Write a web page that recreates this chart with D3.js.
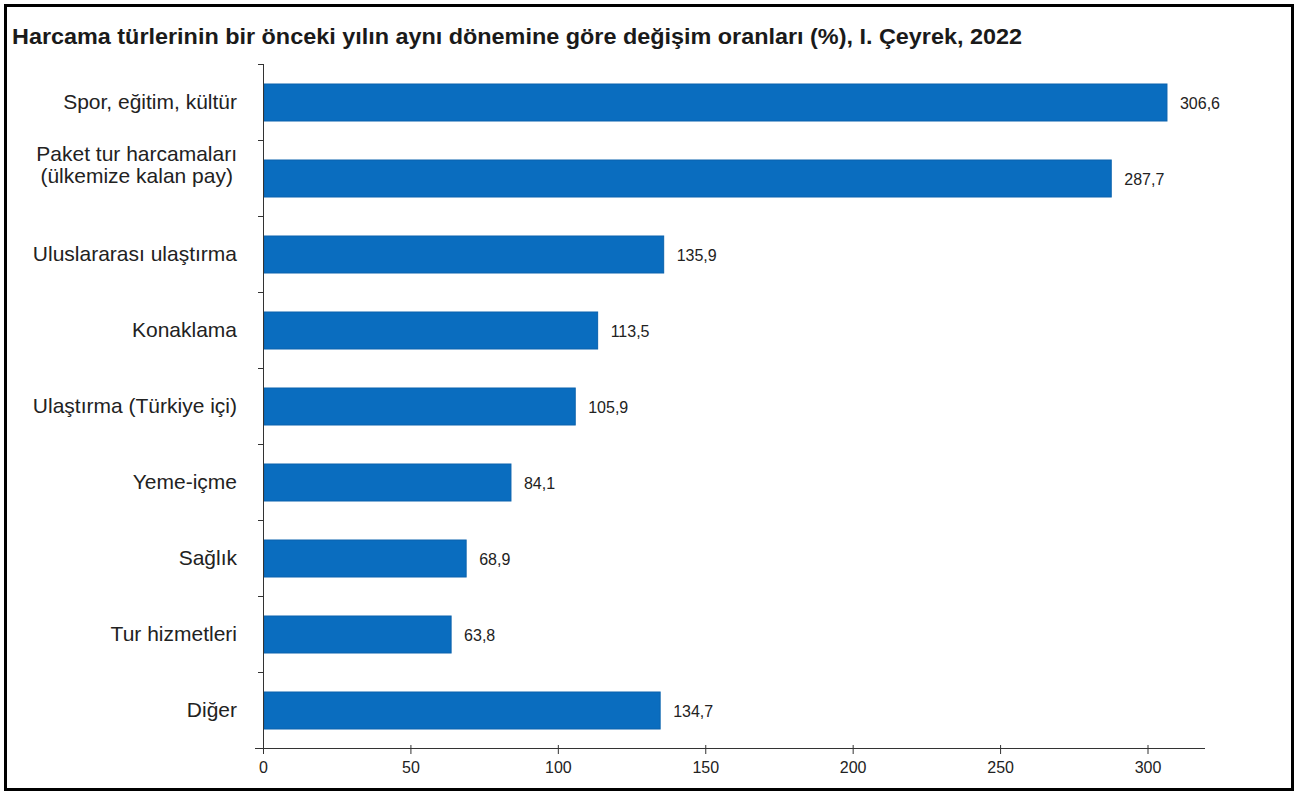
<!DOCTYPE html>
<html>
<head>
<meta charset="utf-8">
<script src="https://cdn.jsdelivr.net/npm/d3@7"></script>
<style>
  body { margin: 0; background: #fff; }
  svg text { font-family: "Liberation Sans", Arial, sans-serif; }
</style>
</head>
<body>
<div id="chart"></div>
<script>
// chart data
var categories = [
    ["Spor, eğitim, kültür"],
    ["Paket tur harcamaları", "(ülkemize kalan pay)"],
    ["Uluslararası ulaştırma"],
    ["Konaklama"],
    ["Ulaştırma (Türkiye içi)"],
    ["Yeme-içme"],
    ["Sağlık"],
    ["Tur hizmetleri"],
    ["Diğer"]
];
var values = [306.6, 287.7, 135.9, 113.5, 105.9, 84.1, 68.9, 63.8, 134.7];
var xTicks = [0, 50, 100, 150, 200, 250, 300];
var title = "Harcama türlerinin bir önceki yılın aynı dönemine göre değişim oranları (%), I. Çeyrek, 2022";

(function () {
    var W = 1305, H = 796;
    var margin = { top: 64, left: 263, right: 100, bottom: 48 };
    var plotW = 1205 - margin.left,
        plotH = 748 - margin.top;

    var svg = d3.select("#chart").append("svg")
        .attr("width", W)
        .attr("height", H);

    // outer frame
    svg.append("rect")
        .attr("x", 5.5).attr("y", 5.5)
        .attr("width", 1287).attr("height", 784)
        .attr("fill", "none")
        .attr("stroke", "#000")
        .attr("stroke-width", 3);

    svg.append("text")
        .attr("x", 12).attr("y", 44)
        .attr("font-size", "22px")
        .attr("font-weight", "bold")
        .attr("fill", "#1a1a1a")
        .attr("textLength", 1010)
        .attr("lengthAdjust", "spacingAndGlyphs")
        .text(title);

    var g = svg.append("g")
        .attr("transform", "translate(" + margin.left + "," + margin.top + ")");

    var x = d3.scaleLinear()
        .domain([0, 319.5])
        .range([0, plotW]);

    var y = d3.scaleBand()
        .domain(d3.range(categories.length))
        .range([0, plotH])
        .paddingInner(0.5)
        .paddingOuter(0.25);

    // bars
    g.selectAll(".bar")
        .data(values)
        .enter().append("rect")
        .attr("class", "bar")
        .attr("x", x(0) + 1)
        .attr("y", function (d, i) { return y(i) + 1; })
        .attr("width", function (d) { return x(d) - x(0) - 1; })
        .attr("height", y.bandwidth() - 1)
        .attr("fill", "#0a6dbf")
        .attr("stroke", "#0a62ad")
        .attr("stroke-width", 1);

    // value labels
    g.selectAll(".val")
        .data(values)
        .enter().append("text")
        .attr("class", "val")
        .attr("x", function (d) { return x(d) + 13; })
        .attr("y", function (d, i) { return y(i) + y.bandwidth() / 2 + 1; })
        .attr("dy", "0.35em")
        .attr("font-size", "16px")
        .attr("fill", "#222")
        .text(function (d) { return d3.format(".1f")(d).replace(".", ","); });

    // category labels: right-aligned block, lines centred inside it
    var labelRight = -26;
    var step = y.step();
    g.selectAll(".cat")
        .data(categories)
        .enter().append("g")
        .attr("class", "cat")
        .attr("transform", function (d, i) {
            return "translate(" + labelRight + "," + (y(i) + y.bandwidth() / 2) + ") scale(1.05,1)";
        })
        .append("text")
        .attr("font-size", "20px")
        .attr("fill", "#222")
        .each(function (d) {
            var t = d3.select(this);
            var spans = d.map(function (line, k) {
                return t.append("tspan")
                    .attr("y", d.length === 1 ? 7 : (k === 0 ? -17 : 5))
                    .text(line);
            });
            var widths = spans.map(function (s) { return s.node().getComputedTextLength(); });
            var maxW = d3.max(widths);
            spans.forEach(function (s, k) {
                s.attr("x", -maxW + (maxW - widths[k]) / 2);
            });
        });

    // y axis with boundary ticks
    var yAxis = g.append("g");
    yAxis.append("line")
        .attr("x1", 0.5).attr("x2", 0.5)
        .attr("y1", 0).attr("y2", plotH + 6)
        .attr("stroke", "#333");
    yAxis.selectAll(".ytick")
        .data(d3.range(categories.length + 1))
        .enter().append("line")
        .attr("x1", -5).attr("x2", 0.5)
        .attr("y1", function (i) { return Math.round(i * step) + 0.5; })
        .attr("y2", function (i) { return Math.round(i * step) + 0.5; })
        .attr("stroke", "#333");

    // x axis
    var xAxis = g.append("g")
        .attr("transform", "translate(0," + plotH + ")")
        .call(d3.axisBottom(x).tickValues(xTicks).tickSize(6).tickSizeOuter(0).tickPadding(8));
    xAxis.select(".domain").remove();
    xAxis.append("line")
        .attr("x1", -8).attr("x2", plotW)
        .attr("y1", 0.5).attr("y2", 0.5)
        .attr("stroke", "#333");
    xAxis.selectAll(".tick line").attr("stroke", "#333").attr("y1", -3);
    xAxis.selectAll(".tick text")
        .attr("font-size", "16px")
        .attr("fill", "#222")
        .style("font-family", "'Liberation Sans', Arial, sans-serif");
})();
</script>
</body>
</html>
